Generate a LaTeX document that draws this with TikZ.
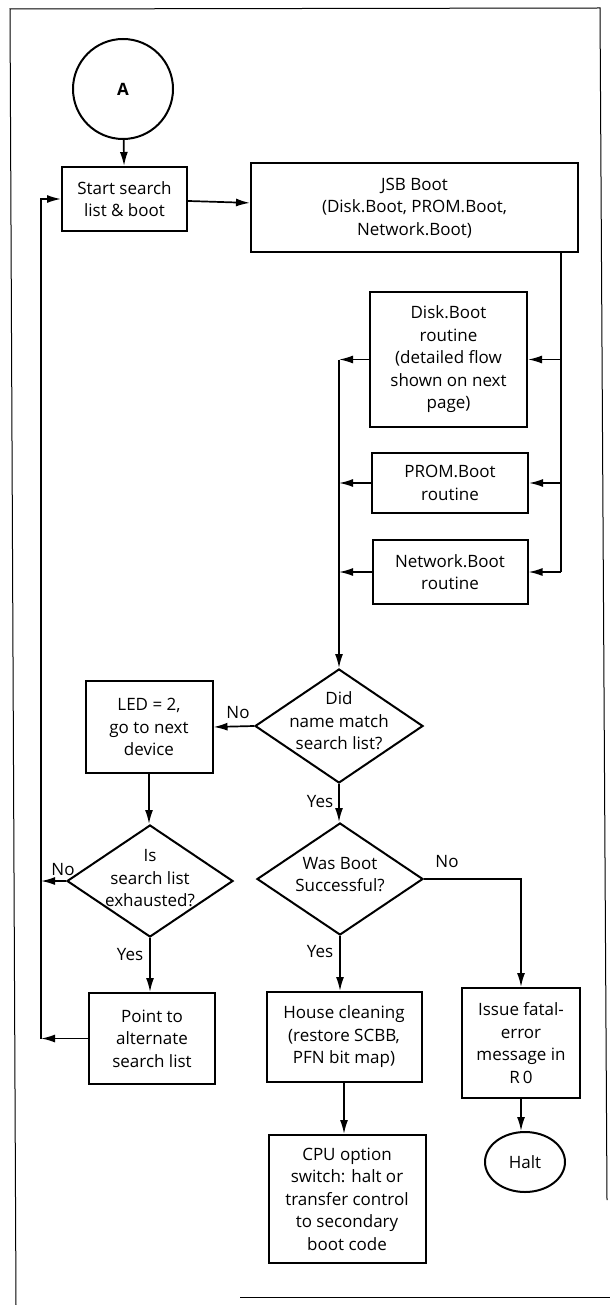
\documentclass[tikz,border=0pt]{standalone}
\usepackage{fontspec}
\setmainfont{Open Sans}
\usetikzlibrary{shapes.geometric,arrows.meta}

% decision text, shifted a little inside its diamond (box of zero size, so the shift shows)
\newcommand{\dectext}[2]{\raisebox{#1}[0pt][0pt]{\begin{tabular}{@{}c@{}}#2\end{tabular}}}

\begin{document}
\begin{tikzpicture}[x=1pt,y=-1pt,
  every node/.style={font=\fontsize{17}{22.5}\selectfont, align=center, inner sep=0pt},
  box/.style 2 args={draw, line width=2pt, minimum width=#1, minimum height=#2},
  dec/.style 2 args={draw, diamond, line width=2pt, inner sep=-30pt,
                     minimum width=#1, minimum height=#2},
  arr/.style={line width=1.7pt, -{Latex[length=14pt,width=8pt]}},
  wire/.style={line width=1.7pt},
  frame/.style={line width=1pt},
  lbl/.style={font=\fontsize{17}{20}\selectfont}]

\useasboundingbox (0,0) rectangle (610,1305);

% page frame
\draw[frame] (16,1305) -- (10,9) -- (600,8) -- (607,1200);
\draw[frame] (240,1297) -- (610,1297);

% nodes
\node[draw, circle, line width=2pt, minimum size=100pt, font=\fontsize{17}{20}\selectfont\bfseries] (A) at (123,89) {A};
\node[box={125}{64}] (start) at (124.5,199) {Start search\\list \& boot};
\node[box={327}{89}] (jsb) at (414.5,208) {JSB Boot\\(Disk.Boot, PROM.Boot,\\Network.Boot)};
\node[box={157}{135}] (disk) at (448.5,359.5) {Disk.Boot\\routine\\(detailed flow\\shown on next\\page)};
\node[box={156}{60}] (prom) at (450,483) {PROM.Boot\\routine};
\node[box={155}{64}] (net) at (450,572) {Network.Boot\\routine};
\node[dec={168}{114}] (d1) at (339,726) {\dectext{-1pt}{Did\\name match\\search list?}};
\node[box={127}{92}] (led) at (149,727) {LED = 2,\\go to next\\device};
\node[dec={166}{112}] (d2) at (150,881) {\dectext{-3pt}{Is\\search list\\exhausted?}};
\node[dec={166}{112}] (d3) at (340,879) {\dectext{-1.5pt}{Was Boot\\Successful?}};
\node[box={126}{91}] (point) at (152,1038.5) {Point to\\alternate\\search list};
\node[box={155}{90}] (house) at (344,1037) {House cleaning\\(restore SCBB,\\PFN bit map)};
\node[box={118}{110}] (issue) at (521,1043) {Issue fatal-\\error\\message in\\R\,0};
\node[box={157}{128}] (cpu) at (347,1199) {CPU option\\switch: halt or\\transfer control\\to secondary\\boot code};
\node[draw, ellipse, line width=2pt, minimum width=80pt, minimum height=60pt] (halt) at (525,1162) {Halt};

% helper coordinates for the bus lines
\coordinate (busx) at (561,0);
\coordinate (loop) at (41,0);

% connectors
\draw[arr] (A) -- (start);
\draw[arr] (start) -- (jsb);
\draw[wire] (jsb.south -| busx) -- (net.east -| busx);
\draw[arr] (disk.east -| busx) -- (disk.east);
\draw[arr] (prom.east -| busx) -- (prom.east);
\draw[arr] (net.east -| busx) -- (net.east);
\draw[arr] (disk.west) -- (disk.west -| d1.north);
\draw[arr] (prom.west) -- (prom.west -| d1.north);
\draw[arr] (net.west) -- (net.west -| d1.north);
\draw[arr] (disk.west -| d1.north) -- (d1.north);
\draw[arr] (d1.west) -- (led.east);
\draw[arr] (d1.south) -- (d1.south |- d3.north);
\draw[arr] (led.south) -- (led.south |- d2.north);
\draw[arr] (d2.south) -- (d2.south |- point.north);
\draw[arr] (d2.west) -- (d2.west -| loop);
\draw[arr] (point.west) -- (point.west -| loop);
\draw[arr] (point.west -| loop) |- (start.west);
\draw[arr] (d3.south) -- (d3.south |- house.north);
\draw[arr] (d3.east) -| (issue.north);
\draw[arr] (house.south) -- (house.south |- cpu.north);
\draw[arr] (issue.south) -- (issue.south |- halt.north);

% branch labels
\node[lbl] (n1) at (238,713) {No};
\node[lbl] (y1) at (320,802) {Yes};
\node[lbl] (n2) at (63,870) {No};
\node[lbl] (y2) at (130,955) {Yes};
\node[lbl] (n3) at (447,862) {No};
\node[lbl] (y3) at (320,952) {Yes};
\end{tikzpicture}
\end{document}
